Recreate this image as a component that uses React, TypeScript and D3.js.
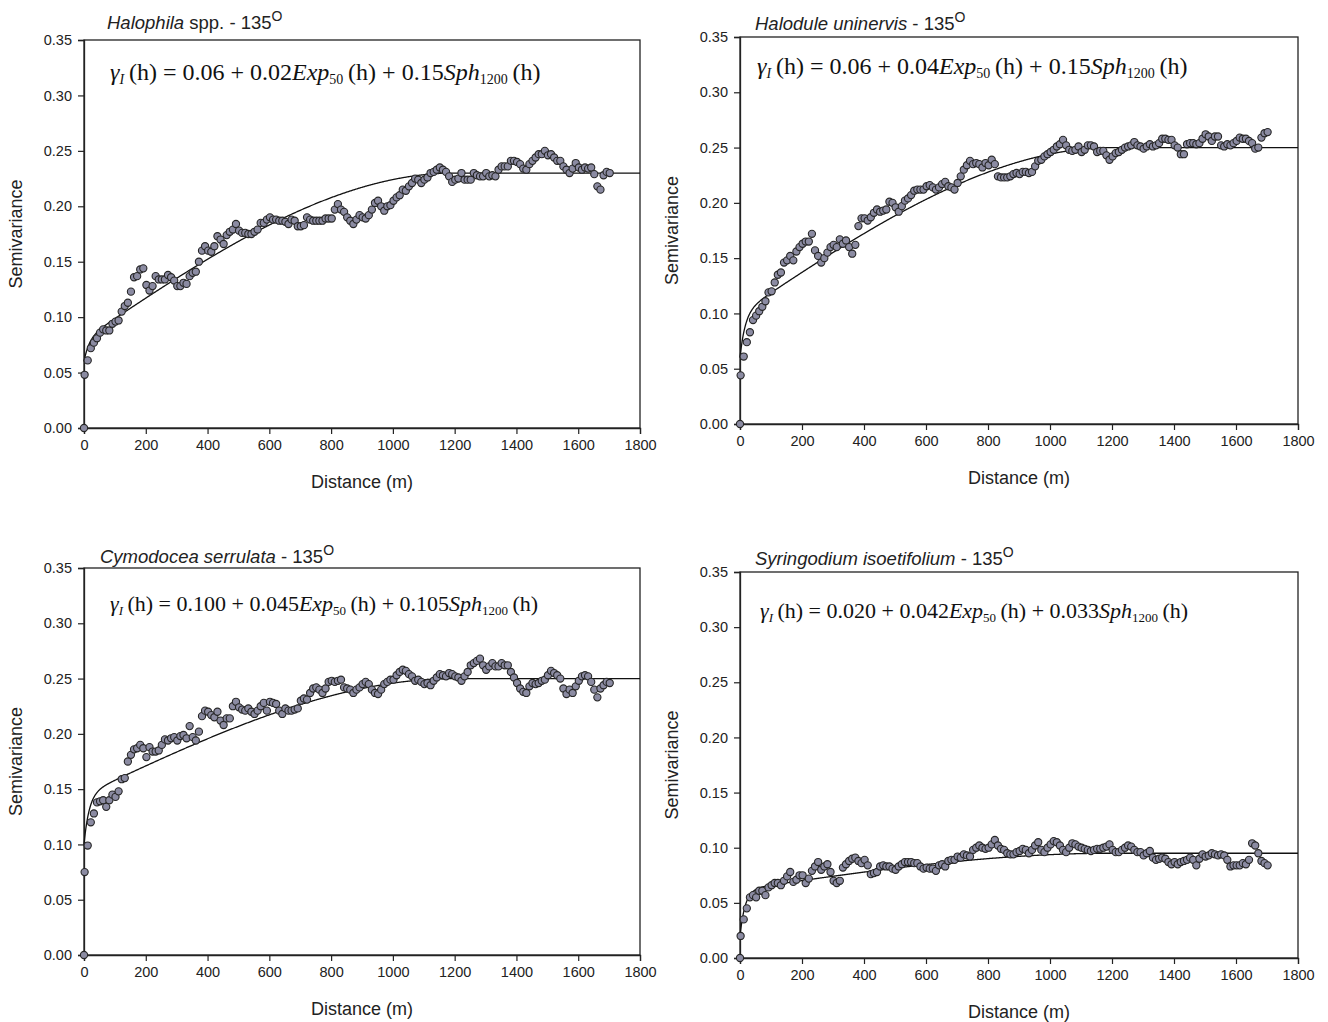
import React, { useRef, useEffect } from 'react';
import * as d3 from 'd3';

const W = 1328, H = 1022;

// lag distances: 0, then 2, 12, 22, ... (m)
const lagStep = 10;
const firstLag = 2;

const halophila = [0,
  0.048, 0.061, 0.072, 0.077, 0.081, 0.086, 0.089, 0.088, 0.088, 0.094,
  0.096, 0.097, 0.105, 0.110, 0.113, 0.123, 0.136, 0.137, 0.143, 0.144,
  0.129, 0.124, 0.128, 0.137, 0.134, 0.134, 0.134, 0.138, 0.136, 0.133,
  0.128, 0.128, 0.131, 0.130, 0.137, 0.140, 0.141, 0.150, 0.160, 0.164,
  0.160, 0.159, 0.164, 0.173, 0.170, 0.166, 0.174, 0.177, 0.179, 0.184,
  0.178, 0.176, 0.176, 0.175, 0.175, 0.177, 0.179, 0.185, 0.185, 0.188,
  0.190, 0.188, 0.188, 0.187, 0.187, 0.186, 0.184, 0.188, 0.187, 0.182,
  0.182, 0.183, 0.190, 0.188, 0.187, 0.187, 0.187, 0.187, 0.189, 0.189,
  0.189, 0.197, 0.202, 0.197, 0.195, 0.190, 0.187, 0.184, 0.188, 0.192,
  0.190, 0.189, 0.192, 0.197, 0.203, 0.205, 0.200, 0.196, 0.200, 0.201,
  0.205, 0.208, 0.210, 0.215, 0.214, 0.218, 0.221, 0.225, 0.224, 0.221,
  0.224, 0.226, 0.230, 0.231, 0.233, 0.235, 0.233, 0.231, 0.227, 0.222,
  0.224, 0.225, 0.230, 0.224, 0.224, 0.224, 0.230, 0.228, 0.227, 0.227,
  0.230, 0.227, 0.228, 0.227, 0.233, 0.236, 0.236, 0.236, 0.241, 0.241,
  0.240, 0.238, 0.234, 0.233, 0.238, 0.241, 0.244, 0.247, 0.247, 0.250,
  0.246, 0.247, 0.244, 0.241, 0.241, 0.236, 0.233, 0.230, 0.234, 0.239,
  0.235, 0.233, 0.235, 0.234, 0.235, 0.229, 0.218, 0.215, 0.228, 0.231,
  0.230];

const halodule = [0,
  0.044, 0.061, 0.074, 0.083, 0.094, 0.098, 0.102, 0.106, 0.111, 0.119,
  0.120, 0.128, 0.135, 0.137, 0.146, 0.148, 0.152, 0.148, 0.156, 0.160,
  0.163, 0.165, 0.165, 0.172, 0.157, 0.152, 0.146, 0.150, 0.155, 0.160,
  0.162, 0.160, 0.167, 0.163, 0.166, 0.160, 0.154, 0.162, 0.179, 0.186,
  0.186, 0.184, 0.187, 0.191, 0.194, 0.192, 0.193, 0.194, 0.201, 0.200,
  0.196, 0.192, 0.197, 0.202, 0.204, 0.207, 0.211, 0.212, 0.212, 0.212,
  0.215, 0.216, 0.214, 0.212, 0.214, 0.217, 0.219, 0.215, 0.214, 0.212,
  0.218, 0.224, 0.230, 0.234, 0.238, 0.235, 0.236, 0.235, 0.232, 0.236,
  0.234, 0.239, 0.235, 0.224, 0.223, 0.223, 0.223, 0.224, 0.226, 0.227,
  0.226, 0.228, 0.228, 0.227, 0.228, 0.233, 0.238, 0.239, 0.242, 0.244,
  0.246, 0.248, 0.251, 0.253, 0.257, 0.252, 0.248, 0.247, 0.248, 0.251,
  0.246, 0.248, 0.252, 0.252, 0.251, 0.246, 0.247, 0.247, 0.243, 0.239,
  0.242, 0.245, 0.246, 0.248, 0.250, 0.251, 0.252, 0.255, 0.252, 0.251,
  0.249, 0.251, 0.253, 0.251, 0.252, 0.254, 0.258, 0.258, 0.257, 0.257,
  0.252, 0.250, 0.244, 0.244, 0.253, 0.254, 0.254, 0.253, 0.254, 0.258,
  0.262, 0.260, 0.256, 0.260, 0.260, 0.252, 0.251, 0.253, 0.252, 0.254,
  0.256, 0.259, 0.258, 0.258, 0.256, 0.254, 0.249, 0.250, 0.259, 0.263,
  0.264];

const cymodocea = [0,
  0.075, 0.099, 0.120, 0.128, 0.138, 0.139, 0.140, 0.134, 0.140, 0.145,
  0.143, 0.148, 0.159, 0.160, 0.175, 0.181, 0.186, 0.187, 0.190, 0.187,
  0.179, 0.188, 0.184, 0.184, 0.185, 0.190, 0.195, 0.194, 0.196, 0.197,
  0.194, 0.198, 0.199, 0.196, 0.207, 0.197, 0.194, 0.202, 0.216, 0.221,
  0.220, 0.217, 0.215, 0.220, 0.212, 0.208, 0.214, 0.214, 0.225, 0.229,
  0.224, 0.222, 0.221, 0.223, 0.220, 0.218, 0.221, 0.225, 0.228, 0.221,
  0.229, 0.228, 0.227, 0.221, 0.218, 0.223, 0.221, 0.221, 0.222, 0.223,
  0.230, 0.232, 0.231, 0.237, 0.241, 0.242, 0.240, 0.237, 0.241, 0.247,
  0.248, 0.247, 0.248, 0.249, 0.242, 0.241, 0.240, 0.237, 0.240, 0.242,
  0.245, 0.247, 0.245, 0.240, 0.237, 0.236, 0.240, 0.245, 0.247, 0.249,
  0.249, 0.253, 0.256, 0.258, 0.257, 0.254, 0.252, 0.248, 0.249, 0.247,
  0.245, 0.246, 0.244, 0.248, 0.251, 0.254, 0.253, 0.252, 0.255, 0.254,
  0.252, 0.251, 0.248, 0.252, 0.256, 0.262, 0.264, 0.266, 0.268, 0.262,
  0.258, 0.261, 0.264, 0.261, 0.261, 0.264, 0.262, 0.262, 0.256, 0.251,
  0.246, 0.241, 0.238, 0.237, 0.243, 0.246, 0.245, 0.246, 0.248, 0.249,
  0.253, 0.257, 0.255, 0.253, 0.250, 0.241, 0.236, 0.240, 0.237, 0.243,
  0.248, 0.252, 0.253, 0.252, 0.247, 0.240, 0.233, 0.241, 0.244, 0.247,
  0.246];

const syringodium = [0,
  0.020, 0.035, 0.045, 0.055, 0.057, 0.055, 0.061, 0.061, 0.057, 0.064,
  0.066, 0.068, 0.068, 0.066, 0.070, 0.074, 0.078, 0.069, 0.071, 0.075,
  0.075, 0.068, 0.072, 0.079, 0.083, 0.087, 0.080, 0.083, 0.085, 0.078,
  0.070, 0.068, 0.070, 0.082, 0.085, 0.088, 0.090, 0.091, 0.088, 0.086,
  0.089, 0.084, 0.076, 0.077, 0.078, 0.083, 0.084, 0.083, 0.083, 0.081,
  0.080, 0.083, 0.085, 0.087, 0.087, 0.087, 0.086, 0.086, 0.083, 0.081,
  0.082, 0.081, 0.081, 0.079, 0.084, 0.085, 0.083, 0.088, 0.089, 0.089,
  0.092, 0.091, 0.094, 0.093, 0.092, 0.098, 0.100, 0.102, 0.100, 0.099,
  0.100, 0.103, 0.107, 0.102, 0.099, 0.098, 0.095, 0.094, 0.094, 0.096,
  0.097, 0.099, 0.098, 0.095, 0.098, 0.102, 0.105, 0.098, 0.096, 0.100,
  0.103, 0.106, 0.105, 0.102, 0.098, 0.096, 0.100, 0.104, 0.103, 0.101,
  0.100, 0.099, 0.098, 0.097, 0.098, 0.099, 0.099, 0.100, 0.101, 0.103,
  0.098, 0.096, 0.096, 0.098, 0.100, 0.102, 0.101, 0.098, 0.096, 0.096,
  0.093, 0.095, 0.097, 0.091, 0.089, 0.090, 0.091, 0.090, 0.087, 0.085,
  0.087, 0.085, 0.087, 0.088, 0.089, 0.091, 0.089, 0.084, 0.090, 0.094,
  0.092, 0.093, 0.095, 0.094, 0.093, 0.094, 0.093, 0.089, 0.083, 0.084,
  0.084, 0.084, 0.086, 0.085, 0.089, 0.104, 0.102, 0.095, 0.088, 0.086,
  0.084];

const series = [halophila, halodule, cymodocea, syringodium];

// titles: italic part + plain part
const titleItalic = ['Halophila', 'Halodule uninervis', 'Cymodocea serrulata', 'Syringodium isoetifolium'];
const titlePlain = [' spp. - 135', ' - 135', ' - 135', ' - 135'];

// fitted model: nugget + c1 Exp50(h) + c2 Sph1200(h)
const nuggetLabels = ['0.06', '0.06', '0.100', '0.020'];
const expLabels = ['0.02', '0.04', '0.045', '0.042'];
const sphLabels = ['0.15', '0.15', '0.105', '0.033'];
const expRange = 50;
const sphRange = 1200;

const xTicks = [0, 200, 400, 600, 800, 1000, 1200, 1400, 1600, 1800];
const yTicks = [0, 0.05, 0.10, 0.15, 0.20, 0.25, 0.30, 0.35];

// panel frames (plot area) and text anchors
const frames = [
  { left: 84, top: 40, right: 640, bottom: 428, tx: 107, ty: 29, ex: 110, ey: 80, es: 24 },
  { left: 740, top: 37, right: 1298, bottom: 424, tx: 755, ty: 30, ex: 757, ey: 74, es: 24 },
  { left: 84, top: 568, right: 640, bottom: 955, tx: 100, ty: 563, ex: 110, ey: 611, es: 22 },
  { left: 740, top: 572, right: 1298, bottom: 958, tx: 755, ty: 565, ex: 760, ey: 618, es: 22 },
];

const sans = '"Liberation Sans", Arial, sans-serif';
const serif = '"Liberation Serif", "Times New Roman", serif';
const gap = '\u00a0';

const model = (h, c0, c1, c2) => {
  const ex = 1 - Math.exp(-3 * h / expRange);
  const r = Math.min(h / sphRange, 1);
  const sp = h >= sphRange ? 1 : 1.5 * r - 0.5 * r * r * r;
  return c0 + c1 * ex + c2 * sp;
};

const Semivariograms = () => {
  const ref = useRef();

  useEffect(() => {
    const svg = d3.select(ref.current);
    svg.selectAll("*").remove();

    frames.forEach((f, i) => {
      const x = d3.scaleLinear().domain([0, 1800]).range([f.left, f.right]);
      const y = d3.scaleLinear().domain([0, 0.35]).range([f.bottom, f.top]);
      const g = svg.append("g");

      // frame
      g.append("rect")
        .attr("x", f.left).attr("y", f.top)
        .attr("width", f.right - f.left).attr("height", f.bottom - f.top)
        .attr("fill", "none").attr("stroke", "#222").attr("stroke-width", 1.3);

      // axes
      const xa = g.append("g")
        .attr("transform", `translate(0, ${f.bottom})`)
        .call(d3.axisBottom(x).tickValues(xTicks).tickFormat(d3.format("d")).tickSize(6).tickPadding(6));
      const ya = g.append("g")
        .attr("transform", `translate(${f.left}, 0)`)
        .call(d3.axisLeft(y).tickValues(yTicks).tickFormat(d3.format(".2f")).tickSize(6).tickPadding(6));
      [xa, ya].forEach(a => {
        a.select(".domain").attr("stroke", "#222").attr("stroke-width", 1.3);
        a.selectAll("line").attr("stroke", "#222").attr("stroke-width", 1.2);
        a.selectAll("text").attr("font-family", sans).attr("font-size", 14.5).attr("fill", "#222");
      });

      // axis titles
      g.append("text")
        .attr("x", (f.left + f.right) / 2).attr("y", f.bottom + 60)
        .attr("text-anchor", "middle")
        .attr("font-family", sans).attr("font-size", 18).attr("fill", "#222")
        .text("Distance (m)");
      g.append("text")
        .attr("transform", `translate(${f.left - 62}, ${(f.top + f.bottom) / 2}) rotate(-90)`)
        .attr("text-anchor", "middle")
        .attr("font-family", sans).attr("font-size", 18).attr("fill", "#222")
        .text("Semivariance");

      // title
      const t = g.append("text")
        .attr("x", f.tx).attr("y", f.ty)
        .attr("font-family", sans).attr("font-size", 18.5).attr("fill", "#222");
      t.append("tspan").attr("font-style", "italic").text(titleItalic[i]);
      t.append("tspan").text(titlePlain[i]);
      t.append("tspan").attr("font-size", 14).attr("dy", -8).text("O");

      // equation
      const sub = Math.round(f.es * 0.6);
      const e = g.append("text")
        .attr("x", f.ex).attr("y", f.ey)
        .attr("font-family", serif).attr("font-size", f.es).attr("fill", "#111");
      e.append("tspan").attr("font-style", "italic").text("γ");
      e.append("tspan").attr("font-style", "italic").attr("font-size", sub).attr("dy", 4).text("I");
      e.append("tspan").attr("dy", -4).text(`\u2009(h)${gap}=${gap}${nuggetLabels[i]}${gap}+${gap}${expLabels[i]}`);
      e.append("tspan").attr("font-style", "italic").text("Exp");
      e.append("tspan").attr("font-size", sub).attr("dy", 4).text(String(expRange));
      e.append("tspan").attr("dy", -4).text(`\u2009(h)${gap}+${gap}${sphLabels[i]}`);
      e.append("tspan").attr("font-style", "italic").text("Sph");
      e.append("tspan").attr("font-size", sub).attr("dy", 4).text(String(sphRange));
      e.append("tspan").attr("dy", -4).text("\u2009(h)");

      // model curve
      const c0 = +nuggetLabels[i], c1 = +expLabels[i], c2 = +sphLabels[i];
      const hs = d3.range(0, 1801, 2);
      const line = d3.line()
        .x(h => x(h))
        .y(h => y(model(h, c0, c1, c2)));
      g.append("path")
        .datum(hs)
        .attr("fill", "none")
        .attr("stroke", "#111")
        .attr("stroke-width", 1.3)
        .attr("d", line);

      // points
      const pts = series[i].map((v, k) => ({ h: k === 0 ? 0 : firstLag + (k - 1) * lagStep, v }));
      g.selectAll("circle.dot")
        .data(pts)
        .enter()
        .append("circle")
        .attr("class", "dot")
        .attr("cx", d => x(d.h))
        .attr("cy", d => y(d.v))
        .attr("r", 3.6)
        .attr("fill", "#8b8ba2")
        .attr("stroke", "#262626")
        .attr("stroke-width", 1.1);
    });
  }, []);

  return (
    <svg ref={ref} width={W} height={H}
      style={{ position: 'absolute', left: 0, top: 0, background: '#fff' }} />
  );
};

export default function App() {
  return <Semivariograms />;
}
